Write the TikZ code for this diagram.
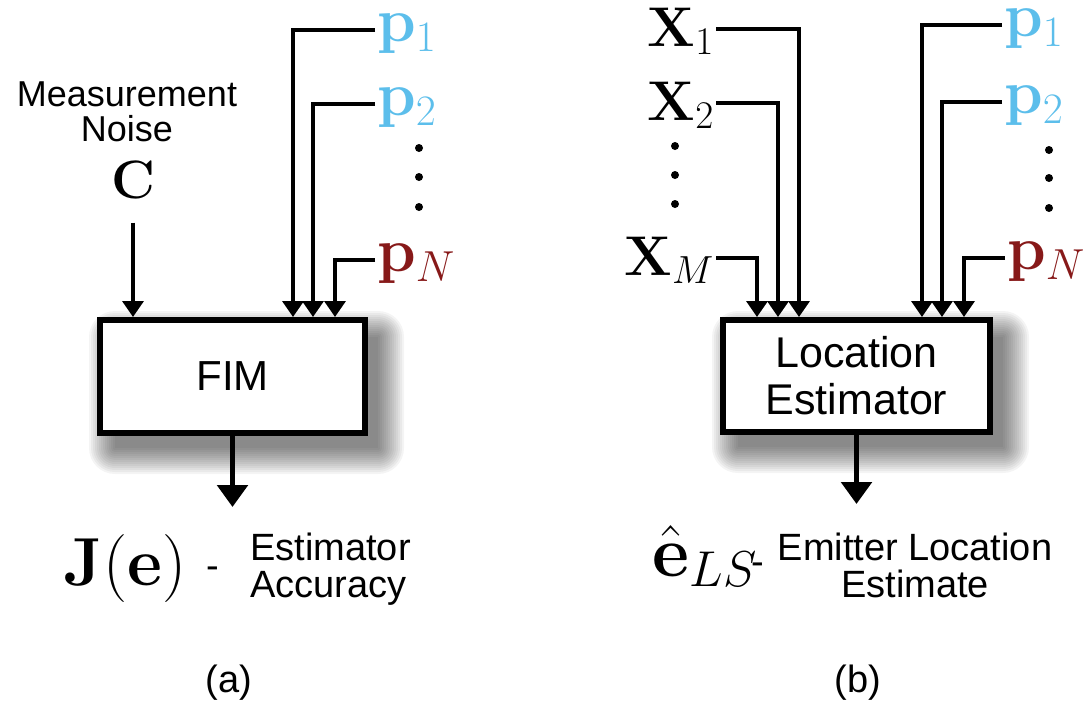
\documentclass[tikz,border=0pt]{standalone}
\usepackage{fix-cm}
\usepackage[no-math]{fontspec}
\setmainfont{Liberation Sans}
\usetikzlibrary{arrows.meta,backgrounds}
\definecolor{pblue}{RGB}{92,190,235}
\definecolor{pred}{RGB}{135,25,25}
\tikzset{
  conn/.style={line width=3.5pt, -{Triangle[length=16pt,width=21pt]}},
  outarr/.style={line width=5.5pt, -{Triangle[length=22pt,width=30pt]}},
  blockbox/.style={draw, line width=6pt, fill=white, inner sep=0pt, align=center},
  shadowpiece/.style={fill=black, fill opacity=0.045},
  mlabel/.style={inner sep=2pt},
  txt/.style={inner sep=0pt, font=\fontsize{38}{37}\selectfont},
  vdot/.style={fill, circle, inner sep=0pt, minimum size=8pt},
}
\begin{document}
\begin{tikzpicture}[x=1pt,y=-1pt]
\useasboundingbox (0,0) rectangle (1083,702);
% ---------- (a) ----------
\node[blockbox, minimum width=265pt, minimum height=113pt, font=\fontsize{42}{46}\selectfont] (fim) at (232.5,376.5) {FIM};
\node[txt, anchor=north, align=center, font=\fontsize{36}{35}\selectfont] (meas) at (127,82) {Measurement\\Noise};
\node[mlabel, font=\fontsize{54}{58}\selectfont] (C) at (133,180) {$\mathbf{C}$};
\draw[conn] ([yshift=-22pt]C.south) -- (C.south |- fim.north);

\node[mlabel, anchor=west, text=pblue, font=\fontsize{62}{66}\selectfont] (pa1) at (375,34) {$\mathbf{p}_1$};
\node[mlabel, anchor=west, text=pblue, font=\fontsize{62}{66}\selectfont] (pa2) at (375,108) {$\mathbf{p}_2$};
\node[mlabel, anchor=west, text=pred, font=\fontsize{62}{66}\selectfont] (paN) at (375,264) {$\mathbf{p}_N$};
\node[vdot] (da1) at (419,148) {};
\node[vdot] (da2) at (419,177) {};
\node[vdot] (da3) at (419,207) {};
\coordinate (ca1) at (293,0);
\coordinate (ca2) at (313,0);
\coordinate (caN) at (335,0);
\draw[conn] ([yshift=4pt]pa1.west) -| (ca1 |- fim.north);
\draw[conn] ([yshift=4pt]pa2.west) -| (ca2 |- fim.north);
\draw[conn] ([yshift=4pt]paN.west) -| (caN |- fim.north);

\coordinate (jout) at (233,507);
\draw[outarr] (fim.south) -- (fim.south |- jout);
\node[mlabel, anchor=base, font=\fontsize{68}{72}\selectfont] (J) at (125,585) {$\mathbf{J}(\mathbf{e})$};
\node[txt, anchor=base] (dasha) at (213,578.5) {-};
\node[txt, anchor=north west, align=left] (acc) at (250,533) {Estimator\\Accuracy};
\node[txt, anchor=base] (la) at (229,692) {(a)};

% ---------- (b) ----------
\node[blockbox, minimum width=267pt, minimum height=112pt, font=\fontsize{43}{47}\selectfont] (le) at (856.5,376) {Location\\Estimator};

\node[mlabel, anchor=east, font=\fontsize{56}{60}\selectfont] (x1) at (716,31) {$\mathbf{X}_1$};
\node[mlabel, anchor=east, font=\fontsize{56}{60}\selectfont] (x2) at (716,105) {$\mathbf{X}_2$};
\node[mlabel, anchor=east, font=\fontsize{56}{60}\selectfont] (xM) at (716,260) {$\mathbf{X}_M$};
\node[vdot] (dx1) at (675,146) {};
\node[vdot] (dx2) at (675,175) {};
\node[vdot] (dx3) at (675,204) {};
\coordinate (cx1) at (799,0);
\coordinate (cx2) at (778,0);
\coordinate (cxM) at (757,0);
\draw[conn] ([yshift=2pt]x1.east) -| (cx1 |- le.north);
\draw[conn] ([yshift=2pt]x2.east) -| (cx2 |- le.north);
\draw[conn] ([yshift=2pt]xM.east) -| (cxM |- le.north);

\node[mlabel, anchor=west, text=pblue, font=\fontsize{62}{66}\selectfont] (pb1) at (1002,29) {$\mathbf{p}_1$};
\node[mlabel, anchor=west, text=pblue, font=\fontsize{62}{66}\selectfont] (pb2) at (1002,106) {$\mathbf{p}_2$};
\node[mlabel, anchor=west, text=pred, font=\fontsize{62}{66}\selectfont] (pbN) at (1005,262) {$\mathbf{p}_N$};
\node[vdot] (db1) at (1049,150) {};
\node[vdot] (db2) at (1049,178) {};
\node[vdot] (db3) at (1049,208) {};
\coordinate (cb1) at (922,0);
\coordinate (cb2) at (942,0);
\coordinate (cbN) at (964,0);
\draw[conn] ([yshift=4pt]pb1.west) -| (cb1 |- le.north);
\draw[conn] ([yshift=4pt]pb2.west) -| (cb2 |- le.north);
\draw[conn] ([yshift=4pt]pbN.west) -| (cbN |- le.north);

\coordinate (eout) at (857,504);
\draw[outarr] (le.south) -- (le.south |- eout);
\node[mlabel, anchor=base, font=\fontsize{72}{76}\selectfont] (E) at (705,576) {$\hat{\mathbf{e}}_{LS}$};
\node[txt, anchor=base] (dashb) at (758,574) {-};
\node[txt, anchor=north, align=center] (emit) at (915,533) {Emitter Location\\Estimate};
\node[txt, anchor=base] (lb) at (858,692) {(b)};

% ---------- soft shadows (lower right) ----------
\begin{scope}[on background layer]
\foreach \g in {0,2,...,26} {
  \fill[shadowpiece, rounded corners=\g pt]
    ([shift={(18-\g,20-\g)}]fim.north west) rectangle ([shift={(10+\g,12+\g)}]fim.south east);
  \fill[shadowpiece, rounded corners=\g pt]
    ([shift={(18-\g,20-\g)}]le.north west) rectangle ([shift={(10+\g,12+\g)}]le.south east);
}
\end{scope}
\end{tikzpicture}
\end{document}
